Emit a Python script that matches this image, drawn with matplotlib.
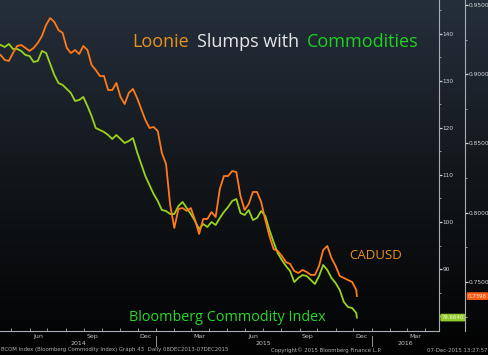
import numpy as np
import pandas as pd
import matplotlib
matplotlib.use("Agg")
import matplotlib.pyplot as plt
import matplotlib.dates as mdates
import matplotlib.transforms as mtransforms
from matplotlib.colors import LinearSegmentedColormap
from matplotlib.lines import Line2D
from matplotlib.ticker import FixedLocator, MultipleLocator, FormatStrFormatter

# weekly readings (Sundays 13 Apr 2014 .. 06 Dec 2015) plus the last print on 07 Dec 2015
dates = list(pd.date_range("2014-04-13", "2015-12-06", freq="W-SUN")) + [pd.Timestamp("2015-12-07")]

cadusd = [0.9139, 0.9103, 0.9096, 0.9153, 0.9204, 0.9211, 0.9190, 0.9168, 0.9190, 0.9226,
          0.9276, 0.9356, 0.9406, 0.9377, 0.9319, 0.9298, 0.9190, 0.9153, 0.9175, 0.9146,
          0.9204, 0.9175, 0.9067, 0.9031, 0.8987, 0.8987, 0.8886, 0.8886, 0.8937, 0.8836,
          0.8785, 0.8865, 0.8894, 0.8829, 0.8749, 0.8670, 0.8612, 0.8619, 0.8590, 0.8431,
          0.8352, 0.8056, 0.7890, 0.8027, 0.8034, 0.8013, 0.8034, 0.7948, 0.7847, 0.7955,
          0.7955, 0.8005, 0.7969, 0.8171, 0.8265, 0.8265, 0.8301, 0.8294, 0.8121, 0.8020,
          0.8063, 0.8150, 0.8150, 0.8078, 0.7948, 0.7832, 0.7738, 0.7724, 0.7688, 0.7644,
          0.7630, 0.7579, 0.7565, 0.7587, 0.7572, 0.7551, 0.7551, 0.7616, 0.7731, 0.7760,
          0.7673, 0.7616, 0.7543, 0.7529, 0.7514, 0.7500, 0.7442, 0.7398]

bcom = [137.66, 137.23, 137.87, 136.81, 136.81, 136.38, 135.53, 135.32, 134.04, 134.26,
        136.38, 135.96, 133.62, 131.28, 129.57, 129.15, 128.30, 127.45, 125.74, 125.96,
        126.60, 124.68, 122.55, 120.00, 119.57, 119.15, 118.51, 117.66, 118.51, 117.66,
        116.81, 117.23, 117.87, 114.89, 112.34, 109.79, 107.87, 105.96, 104.47, 102.55,
        102.34, 101.70, 101.70, 103.40, 104.26, 102.98, 101.70, 100.21, 98.51, 99.57,
        98.94, 100.00, 99.36, 100.85, 102.13, 103.19, 104.47, 104.89, 101.91, 101.49,
        102.55, 100.43, 100.85, 102.34, 101.28, 98.30, 95.74, 93.40, 91.91, 90.64,
        89.57, 87.23, 88.09, 88.72, 88.51, 87.66, 86.81, 88.51, 90.85, 89.79,
        88.09, 87.02, 85.53, 82.98, 81.91, 81.70, 80.64, 79.664]

month_ticks = ["2014-06-15", "2014-09-15", "2014-12-15", "2015-03-15",
               "2015-06-15", "2015-09-15", "2015-12-15", "2016-03-15"]
month_labels = ["Jun", "Sep", "Dec", "Mar", "Jun", "Sep", "Dec", "Mar"]
year_labels = ["2014", "2015", "2016"]
year_centers = ["2014-08-22", "2015-07-02", "2016-02-27"]
year_breaks = ["2015-01-01", "2016-01-01"]

ORANGE = "#ff7a1a"
LIME = "#9ad31c"
GREY = "#a8adb3"

fig = plt.figure(figsize=(4.88, 3.55), dpi=100)
fig.patch.set_facecolor("black")

# dark gradient background
bg = fig.add_axes([0, 0, 1, 1], zorder=0)
grad = np.linspace(0, 1, 256).reshape(-1, 1)
cmap = LinearSegmentedColormap.from_list("bg", ["#252f3b", "#12161b", "#020202"])
bg.imshow(grad, aspect="auto", cmap=cmap, extent=[0, 1, 0, 1])
bg.axis("off")

ax = fig.add_axes([0, 24 / 355, 439 / 488, 331 / 355], zorder=1)
ax.set_facecolor("none")
ax2 = ax.twinx()
ax.yaxis.tick_right()

ax.plot(dates, bcom, color=LIME, lw=1.3)
ax2.plot(dates, cadusd, color=ORANGE, lw=1.3)

ax.set_xlim(pd.Timestamp("2014-04-12"), pd.Timestamp("2016-04-24"))
ax.set_ylim(76.81, 147.23)
ax2.set_ylim(0.7146, 0.9536)

for a in (ax, ax2):
    for s in ("left", "top"):
        a.spines[s].set_visible(False)
    a.spines["right"].set_color(GREY)
    a.spines["right"].set_linewidth(0.8)
ax2.spines["bottom"].set_visible(False)
ax.spines["bottom"].set_color(GREY)
ax.spines["bottom"].set_linewidth(0.8)
ax2.spines["right"].set_position(("axes", 465 / 439))

ax.yaxis.set_major_locator(MultipleLocator(10))
ax.yaxis.set_minor_locator(MultipleLocator(5))
ax2.yaxis.set_major_locator(MultipleLocator(0.05))
ax2.yaxis.set_minor_locator(MultipleLocator(0.025))
ax2.yaxis.set_major_formatter(FormatStrFormatter("%.4f"))
for a in (ax, ax2):
    a.tick_params(axis="y", which="major", direction="out", length=2.0, width=0.9,
                  colors="#d0d4d8", labelsize=4.2, pad=0.8)
    a.tick_params(axis="y", which="minor", direction="out", length=1.5, width=0.6,
                  colors=GREY)

ax.xaxis.set_major_locator(FixedLocator(mdates.date2num(pd.to_datetime(month_ticks))))
ax.set_xticklabels(month_labels)
ax.xaxis.set_minor_locator(mdates.MonthLocator())
ax.tick_params(axis="x", which="major", length=0, labelsize=4.5, colors="#c0c4c8", pad=2)
ax.tick_params(axis="x", which="minor", direction="in", length=2, width=0.6, colors=GREY)

trans = mtransforms.blended_transform_factory(ax.transData, ax.transAxes)
for lab, c in zip(year_labels, year_centers):
    ax.text(pd.Timestamp(c), -0.039, lab, transform=trans, ha="center", va="center",
            fontsize=4.5, color="#c0c4c8")
for b in year_breaks:
    xb = mdates.date2num(pd.Timestamp(b))
    ax.add_line(Line2D([xb, xb], [-0.015, -0.045], transform=trans, clip_on=False,
                       color=GREY, lw=0.6))

# last-value tags
tr1 = mtransforms.blended_transform_factory(ax.transAxes, ax.transData)
ax.text(1.006, bcom[-1], "%.4f" % bcom[-1], transform=tr1, ha="left", va="center",
        fontsize=3.9, color="#f0ffe0", zorder=5,
        bbox=dict(boxstyle="round,pad=0.25", fc="#93c92a", ec="none"))
tr2 = mtransforms.blended_transform_factory(ax2.transAxes, ax2.transData)
ax2.text(1.066, cadusd[-1], "%.4f" % cadusd[-1], transform=tr2, ha="left", va="center",
         fontsize=3.9, color="#fff0e0", zorder=5, clip_on=False,
         bbox=dict(boxstyle="round,pad=0.25", fc="#ff5a14", ec="none"))

# title and series labels
ty = (355 - 47) / 355
fig.text(132 / 488, ty, "Loonie", color="#e8921e", fontsize=13, family="Open Sans", va="baseline")
fig.text(197 / 488, ty, "Slumps with", color="#e6e6e6", fontsize=13, family="Open Sans", va="baseline")
fig.text(307 / 488, ty, "Commodities", color="#1fd21f", fontsize=13, family="Open Sans", va="baseline")
fig.text(349 / 488, (355 - 259) / 355, "CADUSD", color="#e8921e", fontsize=9.5,
         family="Open Sans", va="baseline")
fig.text(129 / 488, (355 - 321) / 355, "Bloomberg Commodity Index", color="#26d926",
         fontsize=10.4, family="Open Sans", va="baseline")

# footer
fy = 5 / 355
fig.text(1 / 488, fy, "BCOM Index (Bloomberg Commodity Index) Graph 43  Daily 08DEC2013-07DEC2015",
         fontsize=3.9, color="#b0b0b0", va="center")
fig.text(271 / 488, fy, "Copyright\u00a9 2015 Bloomberg Finance L.P.", fontsize=3.9,
         color="#b0b0b0", va="center")
fig.text(487 / 488, fy, "07-Dec-2015 13:27:57", fontsize=3.9, color="#b0b0b0",
         va="center", ha="right")

fig.savefig("out.png", dpi=100, facecolor=fig.get_facecolor())
